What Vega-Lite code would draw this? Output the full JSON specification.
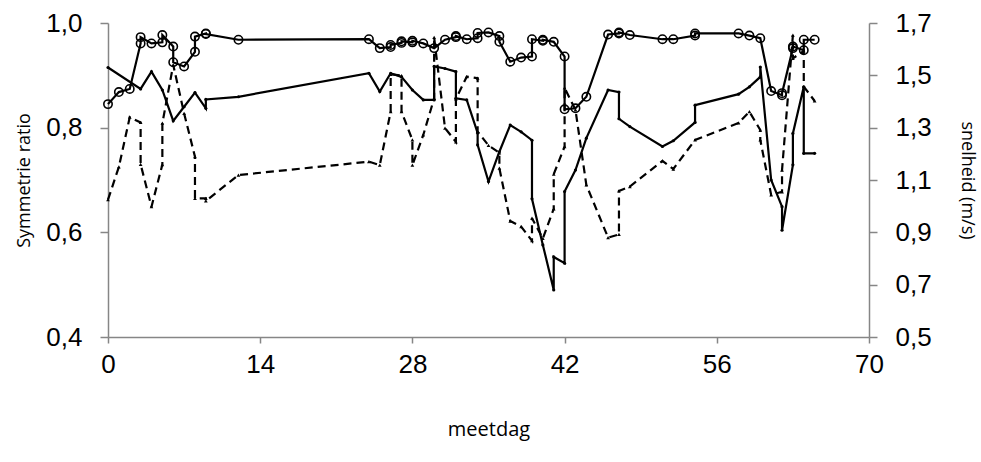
{
  "$schema": "https://vega.github.io/schema/vega-lite/v6.json",
  "autosize": {"type": "none"},
  "width": 761,
  "height": 314,
  "padding": {"left": 108, "top": 23, "right": 112, "bottom": 125},
  "background": "white",
  "config": {
    "locale": {"number": {"decimal": ",", "thousands": ".", "grouping": [3], "currency": ["€", ""]}},
    "view": {"stroke": null},
    "axis": {
      "grid": false,
      "labelFlush": false,
      "domainColor": "#868686",
      "tickColor": "#868686",
      "domainWidth": 1.5,
      "tickWidth": 1.5,
      "labelFont": "Liberation Sans",
      "labelFontSize": 26,
      "labelColor": "#000000",
      "titleFont": "Open Sans",
      "titleFontSize": 18,
      "titleFontWeight": "normal",
      "titleColor": "#000000"
    }
  },
  "datasets": {
    "A": [
      {"i":1,"d":0,"v":0.845},{"i":2,"d":1,"v":0.868},{"i":3,"d":2,"v":0.874},{"i":4,"d":3,"v":0.961},{"i":5,"d":3,"v":0.973},
      {"i":6,"d":4,"v":0.961},{"i":7,"d":5,"v":0.963},{"i":8,"d":5,"v":0.977},{"i":9,"d":6,"v":0.955},{"i":10,"d":6,"v":0.925},
      {"i":11,"d":7,"v":0.917},{"i":12,"d":8,"v":0.945},{"i":13,"d":8,"v":0.974},{"i":14,"d":9,"v":0.980},{"i":15,"d":9,"v":0.979},
      {"i":16,"d":12,"v":0.968},{"i":17,"d":24,"v":0.969},{"i":18,"d":25,"v":0.952},{"i":19,"d":26,"v":0.954},{"i":20,"d":26,"v":0.958},
      {"i":21,"d":27,"v":0.962},{"i":22,"d":27,"v":0.965},{"i":23,"d":28,"v":0.963},{"i":24,"d":28,"v":0.966},{"i":25,"d":29,"v":0.961},
      {"i":26,"d":30,"v":0.952},{"i":27,"d":31,"v":0.968},{"i":28,"d":32,"v":0.973},{"i":29,"d":32,"v":0.975},{"i":30,"d":33,"v":0.969},
      {"i":31,"d":34,"v":0.971},{"i":32,"d":34,"v":0.981},{"i":33,"d":35,"v":0.982},{"i":34,"d":36,"v":0.975},{"i":35,"d":36,"v":0.964},
      {"i":36,"d":37,"v":0.926},{"i":37,"d":38,"v":0.934},{"i":38,"d":39,"v":0.936},{"i":39,"d":39,"v":0.969},{"i":40,"d":40,"v":0.966},
      {"i":41,"d":40,"v":0.968},{"i":42,"d":41,"v":0.964},{"i":43,"d":42,"v":0.936},{"i":44,"d":42,"v":0.835},{"i":45,"d":43,"v":0.837},
      {"i":46,"d":44,"v":0.859},{"i":47,"d":46,"v":0.978},{"i":48,"d":47,"v":0.980},{"i":49,"d":47,"v":0.982},{"i":50,"d":48,"v":0.977},
      {"i":51,"d":51,"v":0.969},{"i":52,"d":52,"v":0.969},{"i":53,"d":54,"v":0.976},{"i":54,"d":54,"v":0.980},{"i":55,"d":58,"v":0.980},
      {"i":56,"d":59,"v":0.976},{"i":57,"d":60,"v":0.971},{"i":58,"d":61,"v":0.870},{"i":59,"d":62,"v":0.862},{"i":60,"d":62,"v":0.866},
      {"i":61,"d":63,"v":0.952},{"i":62,"d":63,"v":0.955},{"i":63,"d":64,"v":0.948},{"i":64,"d":64,"v":0.968},{"i":65,"d":65,"v":0.968}
    ],
    "B": [
      {"i":1,"d":0,"v":0.915},{"i":2,"d":3,"v":0.874},{"i":3,"d":4,"v":0.907},{"i":4,"d":5,"v":0.872},{"i":5,"d":6,"v":0.813},
      {"i":6,"d":7,"v":0.840},{"i":7,"d":8,"v":0.867},{"i":8,"d":9,"v":0.837},{"i":9,"d":9,"v":0.854},{"i":10,"d":12,"v":0.859},
      {"i":11,"d":24,"v":0.904},{"i":12,"d":25,"v":0.869},{"i":13,"d":26,"v":0.904},{"i":14,"d":27,"v":0.897},{"i":15,"d":28,"v":0.872},
      {"i":16,"d":29,"v":0.853},{"i":17,"d":30,"v":0.853},{"i":18,"d":30,"v":0.917},{"i":19,"d":31,"v":0.913},{"i":20,"d":32,"v":0.907},
      {"i":21,"d":32,"v":0.856},{"i":22,"d":33,"v":0.853},{"i":23,"d":34,"v":0.790},{"i":24,"d":34,"v":0.767},{"i":25,"d":35,"v":0.697},
      {"i":26,"d":36,"v":0.754},{"i":27,"d":37,"v":0.805},{"i":28,"d":38,"v":0.792},{"i":29,"d":39,"v":0.776},{"i":30,"d":39,"v":0.664},
      {"i":31,"d":40,"v":0.576},{"i":32,"d":41,"v":0.490},{"i":33,"d":41,"v":0.553},{"i":34,"d":42,"v":0.541},{"i":35,"d":42,"v":0.678},
      {"i":36,"d":43,"v":0.719},{"i":37,"d":44,"v":0.780},{"i":38,"d":46,"v":0.872},{"i":39,"d":47,"v":0.868},{"i":40,"d":47,"v":0.817},
      {"i":41,"d":48,"v":0.802},{"i":42,"d":51,"v":0.764},{"i":43,"d":52,"v":0.775},{"i":44,"d":54,"v":0.810},{"i":45,"d":54,"v":0.843},
      {"i":46,"d":58,"v":0.864},{"i":47,"d":59,"v":0.878},{"i":48,"d":60,"v":0.897},{"i":49,"d":60,"v":0.916},{"i":50,"d":61,"v":0.700},
      {"i":51,"d":62,"v":0.649},{"i":52,"d":62,"v":0.604},{"i":53,"d":63,"v":0.729},{"i":54,"d":63,"v":0.789},{"i":55,"d":64,"v":0.878},
      {"i":56,"d":64,"v":0.751},{"i":57,"d":65,"v":0.751}
    ],
    "C": [
      {"i":1,"d":0,"v":1.025},{"i":2,"d":1,"v":1.150},{"i":3,"d":2,"v":1.340},{"i":4,"d":3,"v":1.320},{"i":5,"d":3,"v":1.160},
      {"i":6,"d":4,"v":0.998},{"i":7,"d":5,"v":1.159},{"i":8,"d":5,"v":1.317},{"i":9,"d":6,"v":1.540},{"i":10,"d":7,"v":1.355},
      {"i":11,"d":8,"v":1.189},{"i":12,"d":8,"v":1.030},{"i":13,"d":9,"v":1.030},{"i":14,"d":9,"v":1.020},{"i":15,"d":12,"v":1.119},
      {"i":16,"d":24,"v":1.170},{"i":17,"d":25,"v":1.157},{"i":18,"d":26,"v":1.361},{"i":19,"d":26,"v":1.504},{"i":20,"d":27,"v":1.499},
      {"i":21,"d":27,"v":1.361},{"i":22,"d":28,"v":1.253},{"i":23,"d":28,"v":1.157},{"i":24,"d":29,"v":1.272},{"i":25,"d":30,"v":1.412},
      {"i":26,"d":30,"v":1.645},{"i":27,"d":31,"v":1.298},{"i":28,"d":32,"v":1.246},{"i":29,"d":32,"v":1.410},{"i":30,"d":33,"v":1.495},
      {"i":31,"d":34,"v":1.489},{"i":32,"d":34,"v":1.285},{"i":33,"d":35,"v":1.232},{"i":34,"d":36,"v":1.204},{"i":35,"d":36,"v":1.145},
      {"i":36,"d":37,"v":0.943},{"i":37,"d":38,"v":0.922},{"i":38,"d":39,"v":0.868},{"i":39,"d":39,"v":0.954},{"i":40,"d":40,"v":0.877},
      {"i":41,"d":41,"v":0.990},{"i":42,"d":41,"v":1.122},{"i":43,"d":42,"v":1.228},{"i":44,"d":42,"v":1.452},{"i":45,"d":43,"v":1.368},
      {"i":46,"d":44,"v":1.081},{"i":47,"d":46,"v":0.880},{"i":48,"d":47,"v":0.892},{"i":49,"d":47,"v":1.058},{"i":50,"d":48,"v":1.075},
      {"i":51,"d":51,"v":1.173},{"i":52,"d":52,"v":1.142},{"i":53,"d":54,"v":1.253},{"i":54,"d":58,"v":1.318},{"i":55,"d":59,"v":1.361},
      {"i":56,"d":60,"v":1.291},{"i":57,"d":60,"v":1.253},{"i":58,"d":61,"v":1.043},{"i":59,"d":62,"v":1.055},{"i":60,"d":62,"v":1.138},
      {"i":61,"d":63,"v":1.654},{"i":62,"d":63,"v":1.565},{"i":63,"d":64,"v":1.593},{"i":64,"d":64,"v":1.457},{"i":65,"d":65,"v":1.402}
    ]
  },
  "encoding": {
    "x": {
      "field": "d", "type": "quantitative",
      "scale": {"domain": [0, 70], "nice": false, "zero": false},
      "axis": {"values": [0, 14, 28, 42, 56, 70], "title": "meetdag", "tickSize": 6, "labelPadding": 8, "titleY": 82, "titleBaseline": "top", "titleFontSize": 20}
    }
  },
  "layer": [
    {
      "encoding": {
        "y": {
          "field": "v", "type": "quantitative",
          "scale": {"domain": [0.4, 1.0], "nice": false, "zero": false},
          "axis": {"orient": "left", "values": [0.4, 0.6, 0.8, 1.0], "format": ".1f", "title": "Symmetrie ratio", "tickSize": 8, "labelPadding": 18, "titleX": -75, "titleY": 157, "titleAngle": -90, "titleBaseline": "bottom", "titleAlign": "center"}
        }
      },
      "layer": [
        {"data": {"name": "A"}, "mark": {"type": "line", "color": "#000000", "strokeWidth": 2.2}, "encoding": {"order": {"field": "i", "type": "quantitative"}}},
        {"data": {"name": "A"}, "mark": {"type": "point", "shape": "circle", "filled": false, "color": "#000000", "size": 70, "strokeWidth": 1.6, "opacity": 1}, "encoding": {}},
        {"data": {"name": "B"}, "mark": {"type": "line", "color": "#000000", "strokeWidth": 2.2}, "encoding": {"order": {"field": "i", "type": "quantitative"}}},
        {"data": {"name": "B"}, "mark": {"type": "circle", "color": "#000000", "size": 10, "opacity": 1}, "encoding": {}}
      ]
    },
    {
      "encoding": {
        "y": {
          "field": "v", "type": "quantitative",
          "scale": {"domain": [0.5, 1.7], "nice": false, "zero": false},
          "axis": {"orient": "right", "values": [0.5, 0.7, 0.9, 1.1, 1.3, 1.5, 1.7], "format": ".1f", "title": "snelheid (m/s)", "tickSize": 8, "labelPadding": 18, "titleX": 88, "titleY": 157, "titleAngle": 90, "titleBaseline": "bottom", "titleAlign": "center"}
        }
      },
      "layer": [
        {"data": {"name": "C"}, "mark": {"type": "line", "color": "#000000", "strokeWidth": 2.2, "strokeDash": [8, 5]}, "encoding": {"order": {"field": "i", "type": "quantitative"}}},
        {"data": {"name": "C"}, "mark": {"type": "point", "shape": "triangle-up", "filled": true, "color": "#000000", "size": 14, "opacity": 1}, "encoding": {}}
      ]
    }
  ],
  "resolve": {"scale": {"y": "independent"}}
}
